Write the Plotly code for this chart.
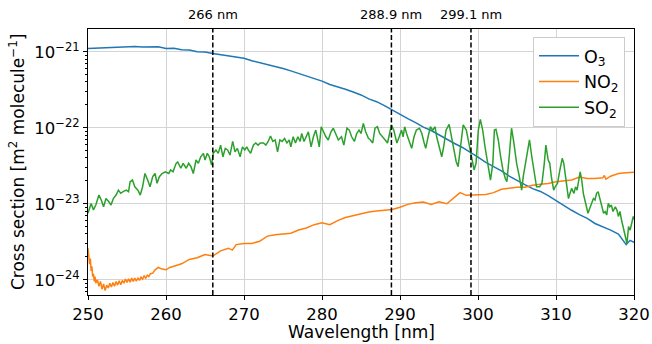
import numpy as np
import plotly.graph_objects as go

# Absorption cross sections, wavelength in nm
o3_wl = [250, 251, 252, 253, 254, 255, 256, 257, 258, 259, 260, 261, 262, 263, 264,
         265, 266, 267, 268, 269, 270, 271, 272, 273, 274, 275, 276, 277, 278, 279,
         280, 281, 282, 283, 284, 285, 286, 287, 288, 289, 290, 291, 292, 293, 294,
         295, 296, 297, 298, 299, 300, 301, 302, 303, 304, 305, 306, 307, 308, 309,
         310, 311, 312, 313, 314, 315, 316, 317, 318, 319, 319.5, 320]
# O3 in units of 1e-21 m^2 molecule^-1
o3_e21 = [1.10, 1.11, 1.13, 1.15, 1.14, 1.15, 1.17, 1.15, 1.15, 1.16, 1.10, 1.11, 1.06, 1.05, 1.00,
          0.99, 0.95, 0.92, 0.88, 0.85, 0.82, 0.76, 0.72, 0.68, 0.64, 0.60, 0.56, 0.52, 0.48, 0.44,
          0.41, 0.37, 0.34, 0.32, 0.295, 0.27, 0.24, 0.22, 0.195, 0.17, 0.15, 0.132, 0.117, 0.102, 0.092,
          0.080, 0.070, 0.062, 0.055, 0.048, 0.041, 0.035, 0.031, 0.027, 0.023, 0.020, 0.0178, 0.0158, 0.0145, 0.0128,
          0.0110, 0.0095, 0.0082, 0.0072, 0.0064, 0.0055, 0.0050, 0.0045, 0.0040, 0.0029, 0.0033, 0.0031]

no2_wl = [250.0, 250.1, 250.2, 250.3, 250.4, 250.5, 250.6, 250.7, 250.8, 250.9,
          251.0, 251.2, 251.4, 251.6, 251.8, 252.0, 252.2, 252.4, 252.6, 252.8,
          253.0, 253.2, 253.4, 253.6, 253.8, 254.0, 254.2, 254.4, 254.6, 254.8,
          255.0, 255.2, 255.4, 255.6, 255.8, 256.0, 256.2, 256.4, 256.6, 256.8,
          257.0, 257.2, 257.4, 257.6, 257.8, 258.0, 258.3, 258.6, 259.0, 259.5,
          260.0, 260.5, 261.0, 261.5, 262.0, 263.0, 264.0, 265.0, 266.0, 267.0,
          268.0, 268.5, 269.0, 270.0, 271.0, 272.0, 273.0, 274.0, 275.0, 276.0,
          277.0, 278.0, 279.0, 280.0, 281.0, 282.0, 283.0, 284.0, 285.0, 286.0,
          287.0, 288.0, 289.0, 290.0, 291.0, 292.0, 293.0, 294.0, 295.0, 296.0,
          297.0, 297.7, 298.5, 299.0, 300.0, 301.0, 302.0, 303.0, 304.0, 305.0,
          306.0, 307.0, 308.0, 309.0, 310.0, 311.0, 312.0, 313.0, 314.0, 315.0,
          316.0, 316.2, 316.4, 317.0, 318.0, 319.0, 320.0]
# NO2 in units of 1e-24 m^2 molecule^-1
no2_e24 = [2.6, 2.2, 1.6, 1.9, 1.3, 1.5, 1.1, 1.2, 0.95, 1.1,
           0.9, 1.0, 0.82, 0.95, 0.75, 0.88, 0.72, 0.85, 0.78, 0.9,
           0.8, 0.92, 0.82, 0.95, 0.85, 0.97, 0.86, 0.98, 0.9, 1.02,
           0.92, 1.03, 0.93, 1.05, 0.95, 1.05, 0.96, 1.06, 0.98, 1.08,
           1.02, 1.12, 1.05, 1.15, 1.1, 1.2, 1.22, 1.35, 1.45, 1.38,
           1.35, 1.45, 1.5, 1.55, 1.62, 1.85, 1.95, 2.15, 2.05, 2.4,
           2.6, 2.45, 2.9, 3.0, 3.0, 3.2, 3.75, 3.9, 4.0, 4.1,
           4.5, 4.8, 5.3, 5.6, 5.3, 6.0, 6.6, 7.0, 7.3, 7.8,
           8.0, 8.2, 8.4, 9.0, 9.8, 10.3, 10.5, 9.8, 10.6, 10.0,
           12.0, 14.0, 12.9, 13.0, 13.0, 13.2, 14.0, 15.5, 16.0, 16.5,
           16.5, 17.5, 18.0, 18.5, 19.5, 20.0, 20.5, 22.5, 21.5, 21.5,
           22.0, 23.5, 21.0, 23.0, 25.0, 25.5, 26.0]

so2_wl = [250.0, 250.4, 250.7, 251.0, 251.4, 251.7, 252.0, 252.3, 252.65, 252.95,
          253.25, 253.6, 253.9, 254.2, 254.5, 254.9, 255.2, 255.4, 255.7, 256.0,
          256.4, 256.7, 257.0, 257.3, 257.65, 257.95, 258.3, 258.6, 258.85, 259.15,
          259.5, 259.9, 260.35, 260.6, 260.9, 261.3, 261.5, 261.9, 262.2, 262.6,
          262.9, 263.2, 263.5, 263.85, 264.15, 264.45, 264.8, 265.0, 265.3, 265.55,
          265.85, 266.06, 266.4, 266.7, 267.0, 267.3, 267.6, 267.9, 268.2, 268.55,
          268.85, 269.15, 269.5, 269.8, 270.1, 270.35, 270.55, 270.85, 271.2, 271.5,
          271.8, 272.1, 272.5, 272.8, 273.1, 273.4, 273.7, 274.0, 274.3, 274.6,
          274.9, 275.2, 275.5, 275.8, 276.0, 276.3, 276.6, 276.9, 277.2, 277.4,
          277.7, 278.0, 278.25, 278.6, 278.9, 279.2, 279.45, 279.65, 279.9, 280.2,
          280.5, 280.8, 281.15, 281.45, 281.75, 282.1, 282.5, 282.8, 283.2, 283.5,
          283.8, 284.15, 284.45, 284.75, 285.0, 285.3, 285.6, 285.95, 286.15, 286.5,
          286.8, 287.1, 287.4, 287.8, 288.1, 288.4, 288.6, 288.9, 289.2, 289.6,
          289.9, 290.2, 290.4, 290.6, 290.9, 291.3, 291.5, 291.8, 292.1, 292.5,
          292.8, 293.1, 293.3, 293.6, 293.9, 294.2, 294.5, 294.7, 295.0, 295.35,
          295.6, 295.9, 296.3, 296.6, 296.9, 297.2, 297.45, 297.7, 297.9, 298.1,
          298.5, 298.8, 299.2, 299.5, 299.75, 300.04, 300.3, 300.6, 300.9, 301.2,
          301.45, 301.6, 301.9, 302.1, 302.3, 302.6, 302.9, 303.2, 303.5, 303.7,
          304.0, 304.3, 304.6, 304.95, 305.3, 305.6, 305.8, 306.2, 306.6, 306.9,
          307.2, 307.5, 307.9, 308.2, 308.5, 308.7, 309.0, 309.2, 309.4, 309.7,
          309.9, 310.2, 310.5, 310.8, 311.0, 311.2, 311.4, 311.6, 311.8, 312.0,
          312.3, 312.5, 312.7, 312.9, 313.1, 313.3, 313.5, 313.7, 313.9, 314.1,
          314.4, 314.6, 314.8, 315.0, 315.2, 315.4, 315.6, 315.9, 316.1, 316.3,
          316.5, 316.7, 316.9, 317.1, 317.3, 317.6, 317.8, 318.0, 318.2, 318.4,
          318.6, 318.8, 319.1, 319.3, 319.5, 319.7, 319.9, 320.0]
# SO2 in units of 1e-23 m^2 molecule^-1
so2_e23 = [0.75, 1.01, 0.83, 0.96, 1.30, 1.12, 0.91, 1.17, 1.07, 0.96,
           1.17, 1.30, 1.51, 1.37, 1.44, 1.51, 1.44, 1.95, 2.05, 1.67,
           1.51, 1.30, 1.67, 2.50, 2.05, 1.67, 2.27, 2.50, 1.86, 2.27,
           2.50, 2.63, 2.50, 2.78, 2.63, 3.40, 3.55, 2.93, 3.40, 2.93,
           3.40, 3.07, 2.50, 3.76, 3.40, 4.15, 4.60, 3.76, 4.60, 4.15,
           3.23, 4.60, 5.10, 4.60, 5.90, 4.15, 5.35, 5.10, 4.37, 6.60,
           4.80, 5.35, 4.15, 5.60, 5.10, 5.60, 5.10, 4.60, 5.90, 6.30,
           5.90, 6.30, 6.30, 5.90, 6.60, 7.80, 6.60, 6.90, 4.80, 6.90,
           6.60, 7.25, 6.30, 6.90, 5.60, 7.60, 6.30, 7.60, 6.60, 8.40,
           6.60, 7.60, 8.85, 5.60, 7.60, 9.30, 6.90, 5.60, 10.3, 8.85,
           7.60, 6.90, 8.85, 9.85, 8.40, 6.90, 7.60, 5.90, 9.85, 9.30,
           7.60, 6.60, 8.40, 9.30, 8.40, 11.4, 8.85, 7.25, 7.00, 6.30,
           9.85, 10.3, 8.40, 7.60, 6.90, 6.30, 8.00, 10.9, 9.30, 6.30,
           7.60, 9.30, 7.60, 10.3, 8.00, 6.30, 5.35, 7.60, 9.30, 9.85,
           8.40, 6.30, 5.35, 7.60, 10.3, 9.30, 10.3, 7.60, 5.60, 4.15,
           5.60, 9.30, 11.1, 7.60, 5.10, 3.60, 3.07, 5.00, 8.00, 10.9,
           9.30, 6.30, 3.96, 2.78, 3.40, 9.30, 12.9, 9.30, 5.60, 3.40,
           2.27, 2.05, 3.40, 9.30, 9.50, 6.90, 4.15, 2.78, 2.15, 1.95,
           4.15, 9.85, 6.30, 3.40, 2.27, 1.51, 2.27, 4.15, 6.90, 4.15,
           2.50, 1.67, 1.67, 1.86, 3.40, 5.90, 3.76, 3.40, 2.27, 1.51,
           1.67, 1.86, 2.78, 3.96, 3.40, 2.50, 1.67, 1.17, 1.37, 1.59,
           1.37, 1.67, 1.51, 2.05, 2.63, 2.05, 1.37, 1.12, 0.87, 0.75,
           0.91, 1.01, 1.17, 1.12, 1.37, 1.44, 1.17, 0.91, 0.75, 0.79,
           0.71, 1.01, 0.91, 0.96, 0.79, 0.91, 0.83, 0.68, 0.79, 0.61,
           0.50, 0.41, 0.30, 0.50, 0.45, 0.55, 0.68, 0.62]

marker_wl = [266.0, 288.9, 299.1]
marker_labels = ["266 nm", "288.9 nm", "299.1 nm"]

ytick_vals = [1e-24, 1e-23, 1e-22, 1e-21]
ytick_text = ["10<sup>\u221224</sup>", "10<sup>\u221223</sup>",
              "10<sup>\u221222</sup>", "10<sup>\u221221</sup>"]
# log minor ticks: 2..9 within each decade shown
yminor_vals = [m * d for d in [1e-25, 1e-24, 1e-23, 1e-22, 1e-21]
               for m in range(2, 10)]
xtick_vals = [250, 260, 270, 280, 290, 300, 310, 320]

FONT = "DejaVu Sans"

fig = go.Figure()
fig.add_trace(go.Scatter(x=o3_wl, y=np.array(o3_e21) * 1e-21, mode="lines",
                         name="O<sub>3</sub>", line=dict(color="#1f77b4", width=1.5)))
fig.add_trace(go.Scatter(x=no2_wl, y=np.array(no2_e24) * 1e-24, mode="lines",
                         name="NO<sub>2</sub>", line=dict(color="#ff7f0e", width=1.5)))
fig.add_trace(go.Scatter(x=so2_wl, y=np.array(so2_e23) * 1e-23, mode="lines",
                         name="SO<sub>2</sub>", line=dict(color="#2ca02c", width=1.5)))

for wl, lab in zip(marker_wl, marker_labels):
    fig.add_shape(type="line", xref="x", yref="paper", x0=wl, x1=wl, y0=0, y1=1,
                  line=dict(color="black", width=1.5, dash="5px,2.5px"), layer="above")
    fig.add_annotation(x=wl, xref="x", y=1.053, yref="paper", text=lab, showarrow=False,
                       font=dict(family=FONT, size=13, color="black"),
                       xanchor="center", yanchor="middle")

fig.add_annotation(x=0.5, xref="paper", y=-0.14, yref="paper", text="Wavelength [nm]",
                   showarrow=False, font=dict(family=FONT, size=17, color="black"),
                   xanchor="center", yanchor="middle")
fig.add_annotation(x=-0.13, xref="paper", y=0.5, yref="paper",
                   text="Cross section [m<sup>2</sup> molecule<sup>\u22121</sup>]",
                   showarrow=False, textangle=-90,
                   font=dict(family=FONT, size=17, color="black"),
                   xanchor="center", yanchor="middle")

axis_common = dict(showline=True, linecolor="black", linewidth=1, mirror=True,
                   showgrid=True, gridcolor="#d4d4d4", gridwidth=1, zeroline=False,
                   ticks="outside", tickcolor="black", ticklen=4, tickwidth=1,
                   automargin=False,
                   tickfont=dict(family=FONT, size=16.5, color="black"))

fig.update_xaxes(range=[250, 320], tickvals=xtick_vals, **axis_common)
fig.update_yaxes(type="log", range=[-24.201, -20.701], tickvals=ytick_vals,
                 ticktext=ytick_text,
                 minor=dict(tickmode="array", tickvals=yminor_vals, ticks="outside",
                            ticklen=2.5, tickcolor="black", tickwidth=0.8, showgrid=False),
                 **axis_common)

fig.update_layout(
    width=652, height=344,
    margin=dict(l=88, r=18, t=29, b=49),
    paper_bgcolor="white", plot_bgcolor="white",
    font=dict(family=FONT, color="black"),
    showlegend=True,
    legend=dict(x=0.9835, y=0.97, xanchor="right", yanchor="top",
                bgcolor="white", bordercolor="#cccccc", borderwidth=1,
                itemwidth=40,
                font=dict(family=FONT, size=17.5, color="black")),
)

fig.write_html("out.html")
